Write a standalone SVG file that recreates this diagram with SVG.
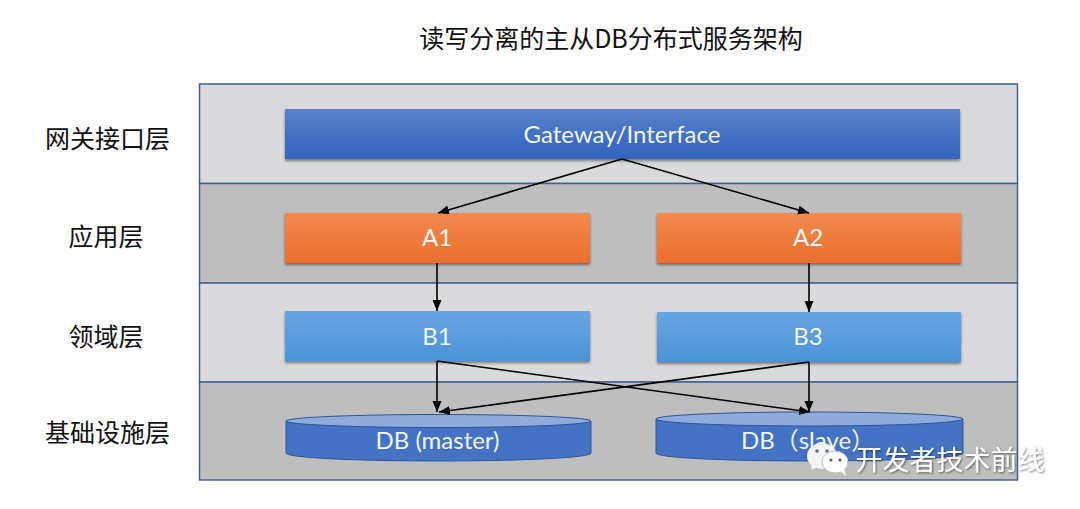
<svg xmlns="http://www.w3.org/2000/svg" width="1080" height="509" viewBox="0 0 1080 509">
<style>
.band{stroke:#44608f;stroke-width:1.5}
.light{fill:#dad9db}
.dark{fill:#bfbebf}
.box{filter:url(#sh)}
text{font-family:"Lato","Noto Sans CJK SC",sans-serif;text-anchor:middle}
.lab{font-family:"Noto Sans CJK SC",sans-serif;font-size:25px;fill:#111}
.in{font-size:24px;fill:#f3f6fb}
.c{stroke:#000;stroke-width:1.6;fill:none;marker-end:url(#a)}
.cyl{fill:#4472c4;stroke:#2f5597;stroke-width:1}
.top{fill:#8faadc;stroke:#2f5597;stroke-width:1}
</style>
<defs>
<marker id="a" markerUnits="userSpaceOnUse" markerWidth="12" markerHeight="10" refX="11" refY="4.5" orient="auto"><path d="M0 0L11 4.5L0 9Z" fill="#000"/></marker>
<linearGradient id="gb" x1="0" y1="0" x2="0" y2="1"><stop offset="0" stop-color="#5b82cb"/><stop offset=".6" stop-color="#3f6ec3"/><stop offset="1" stop-color="#3564bd"/></linearGradient>
<linearGradient id="go" x1="0" y1="0" x2="0" y2="1"><stop offset="0" stop-color="#f38a4e"/><stop offset="1" stop-color="#ec6f2c"/></linearGradient>
<linearGradient id="gl" x1="0" y1="0" x2="0" y2="1"><stop offset="0" stop-color="#6aa6e0"/><stop offset="1" stop-color="#4a93da"/></linearGradient>
<filter id="sh" x="-3%" y="-15%" width="106%" height="135%"><feDropShadow dx="0" dy="2" stdDeviation="1.500" flood-color="#000" flood-opacity=".45"/></filter>
<filter id="ts" x="-5%" y="-20%" width="110%" height="140%"><feDropShadow dx="1" dy="1" stdDeviation="1" flood-color="#000" flood-opacity=".55"/></filter>
</defs>
<rect width="1080" height="509" fill="#fff"/>
<text id="title" x="611" y="48" style="font-family:'Noto Sans CJK SC',sans-serif;font-size:25px;fill:#111">读写分离的主从DB分布式服务架构</text>
<g id="bands">
<rect class="band light" x="199.500" y="84" width="818" height="99.500"/>
<rect class="band dark" x="199.500" y="183.500" width="818" height="99.500"/>
<rect class="band light" x="199.500" y="283" width="818" height="99"/>
<rect class="band dark" x="199.500" y="382" width="818" height="98"/>
</g>
<g id="labels">
<text class="lab" x="107.500" y="148">网关接口层</text>
<text class="lab" x="106" y="246">应用层</text>
<text class="lab" x="106" y="346">领域层</text>
<text class="lab" x="107.500" y="442">基础设施层</text>
</g>
<g id="gateway"><rect class="box" x="285" y="109" width="675" height="50" fill="url(#gb)"/><text class="in" x="622" y="143">Gateway/Interface</text></g>
<g id="a1"><rect class="box" x="285" y="213" width="305" height="50" fill="url(#go)"/><text class="in" x="437" y="246">A1</text></g>
<g id="a2"><rect class="box" x="657" y="213" width="304" height="50" fill="url(#go)"/><text class="in" x="808" y="246">A2</text></g>
<g id="b1"><rect class="box" x="285" y="311" width="305" height="50" fill="url(#gl)"/><text class="in" x="437" y="345">B1</text></g>
<g id="b3"><rect class="box" x="657" y="312" width="304" height="50" fill="url(#gl)"/><text class="in" x="808" y="345">B3</text></g>
<g id="db-master">
<path class="cyl" d="M286 421V453C286 458 360 461 438 461S591 458 591 453V421Z"/>
<ellipse class="top" cx="438.500" cy="421" rx="152.500" ry="6.500"/>
<text class="in" x="437.500" y="449">DB (master)</text>
</g>
<g id="db-slave">
<path class="cyl" d="M656 419V453C656 458 730 461 809 461S963 458 963 453V419Z"/>
<ellipse class="top" cx="809.500" cy="419" rx="153.500" ry="7"/>
<text class="in" x="808" y="449">DB（slave）</text>
</g>
<g id="connectors">
<path class="c" d="M622 159L438 213"/>
<path class="c" d="M622 159L809 213"/>
<path class="c" d="M437 263V311"/>
<path class="c" d="M809 263V312"/>
<path class="c" d="M437 361V412"/>
<path class="c" d="M437 361L810 412"/>
<path class="c" d="M809 362L439 412"/>
<path class="c" d="M809 362V412"/>
</g>
<g id="watermark">
<ellipse cx="822" cy="456" rx="15" ry="13" fill="#f4f4f4"/>
<path d="M812 464L811 470L819 466Z" fill="#f4f4f4"/>
<circle cx="817" cy="451" r="1.800" fill="#5a6f96"/><circle cx="827" cy="451" r="1.800" fill="#5a6f96"/>
<ellipse cx="835" cy="462" rx="13" ry="11" fill="#fff" stroke="#bbb" stroke-width="1"/>
<path d="M840 471L846 476L844 468Z" fill="#fff"/>
<circle cx="831" cy="460" r="1.500" fill="#555"/><circle cx="840" cy="460" r="1.500" fill="#555"/>
<text x="950" y="470" filter="url(#ts)" style="font-family:'Noto Sans CJK SC',sans-serif;font-size:27px;fill:#fff">开发者技术前线</text>
</g>
</svg>
